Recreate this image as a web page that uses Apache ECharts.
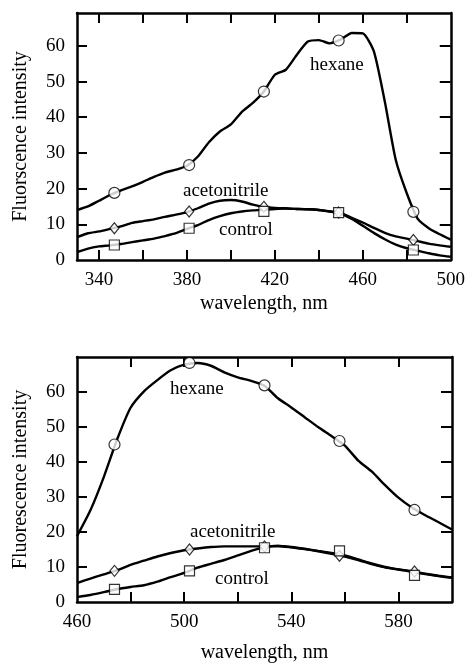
<!DOCTYPE html>
<html>
<head>
<meta charset="utf-8">
<script src="https://cdn.jsdelivr.net/npm/echarts@6/dist/echarts.min.js"></script>
<style>
html,body{margin:0;padding:0;background:#fff;}
#chart{width:468px;height:664px;}
</style>
</head>
<body>
<div id="chart"></div>
<script>
// ---------- DATA ----------
// Top panel (excitation ~330-500 nm)
var topWavelength = [330,335,340,345,350,355,360,365,370,375,380,385,390,395,400,405,410,415,420,425,430,435,440,445,450,455,460,465,470,475,480,485,490,495,500];
var topHexane = [14.0,15.0,16.6,18.2,19.5,20.6,21.9,23.3,24.5,25.3,26.4,29.0,33.0,36.0,38.0,41.5,44.0,47.2,51.9,53.3,57.5,61.2,61.6,60.7,61.8,63.6,63.5,58.5,44.4,28.0,18.7,11.5,8.9,7.2,5.7];
var topAcetonitrile = [6.4,7.5,8.0,8.7,9.4,10.4,10.9,11.4,12.1,12.7,13.4,14.5,15.8,16.6,16.8,16.4,15.5,14.9,14.6,14.5,14.3,14.2,14.0,13.6,13.2,11.8,10.5,9.0,7.6,6.6,6.0,5.3,4.6,4.1,3.7];
var topControl = [2.2,3.2,3.8,4.1,4.5,5.0,5.5,6.0,6.7,7.5,8.7,9.8,11.2,12.3,13.1,13.6,13.9,14.1,14.3,14.4,14.3,14.2,14.0,13.6,13.0,11.5,9.6,7.6,5.8,4.3,3.3,2.6,1.9,1.3,0.9];
var topMarkerWavelength = [347,381,415,449,483];
var topHexaneMarkers = [18.8,26.6,47.2,61.5,13.5];
var topAcetonitrileMarkers = [8.9,13.6,14.9,13.3,5.6];
var topControlMarkers = [4.2,8.9,13.6,13.3,2.8];

// Bottom panel (emission ~460-600 nm)
var botWavelength = [460,465,470,475,480,485,490,495,500,505,510,515,520,525,530,535,540,545,550,555,560,565,570,575,580,585,590,595,600];
var botHexane = [18.8,26.2,35.7,46.5,55.5,60.2,63.4,66.2,67.8,68.3,67.5,65.6,64.2,63.2,61.8,58.2,55.6,52.8,50.0,47.4,44.7,40.4,37.3,33.4,29.8,27.0,24.8,22.8,20.7];
var botAcetonitrile = [5.4,6.7,7.9,9.1,10.6,11.8,13.0,14.0,14.8,15.3,15.7,15.9,15.9,15.9,15.9,16.0,15.6,15.1,14.5,13.8,13.0,12.0,10.8,9.9,9.3,8.8,8.1,7.5,7.0];
var botControl = [1.4,2.0,2.8,3.7,4.3,4.8,5.8,7.1,8.3,9.8,10.9,12.0,13.3,14.6,15.6,16.0,15.7,15.2,14.6,14.0,13.3,12.2,11.0,10.0,9.3,8.6,8.0,7.4,6.9];
var botMarkerWavelength = [474,502,530,558,586];
var botHexaneMarkers = [45.0,68.3,61.9,46.0,26.3];
var botAcetonitrileMarkers = [8.9,15.0,15.9,13.2,8.7];
var botControlMarkers = [3.6,8.9,15.5,14.6,7.6];

// Axis ticks / labels
var topXTicks = [340,360,380,400,420,440,460,480];
var topXLabels = [340,380,420,460,500];
var botXTicks = [480,500,520,540,560,580];
var botXLabels = [460,500,540,580];
var yTicks = [10,20,30,40,50,60];
var yLabels = [0,10,20,30,40,50,60];

var seriesNames = ['hexane','acetonitrile','control'];
var yTitleTop = 'Fluorscence intensity';
var yTitleBot = 'Fluorescence intensity';
var xTitle = 'wavelength, nm';

// ---------- BUILD ----------
function pairs(xs, ys){ return xs.map(function(x,i){ return [x, ys[i]]; }); }
var FONT = 'Liberation Serif';
var BLACK = '#000';

function xBottom(gi, min, max, ticks, labels, gap){
  return {
    type:'value', gridIndex:gi, min:min, max:max, position:'bottom',
    splitLine:{show:false},
    axisLine:{show:true, onZero:false, lineStyle:{color:BLACK, width:2.5}},
    axisTick:{show:true, inside:true, length:10, customValues:ticks, lineStyle:{color:BLACK, width:2}},
    axisLabel:{show:true, customValues:labels, margin:11, color:BLACK, fontFamily:FONT, fontSize:19},
    name:xTitle, nameLocation:'middle', nameGap:gap,
    nameTextStyle:{color:BLACK, fontFamily:FONT, fontSize:20}
  };
}
function xTop(gi, min, max, ticks){
  return {
    type:'value', gridIndex:gi, min:min, max:max, position:'top',
    splitLine:{show:false},
    axisLine:{show:true, onZero:false, lineStyle:{color:BLACK, width:2.5}},
    axisTick:{show:true, inside:true, length:10, customValues:ticks, lineStyle:{color:BLACK, width:2}},
    axisLabel:{show:false}
  };
}
function yLeft(gi, max, title){
  return {
    type:'value', gridIndex:gi, min:0, max:max, position:'left',
    splitLine:{show:false},
    axisLine:{show:true, onZero:false, lineStyle:{color:BLACK, width:2.5}},
    axisTick:{show:true, inside:true, length:10, customValues:yTicks, lineStyle:{color:BLACK, width:2}},
    axisLabel:{show:true, customValues:yLabels, margin:12, color:BLACK, fontFamily:FONT, fontSize:19},
    name:title, nameLocation:'middle', nameGap:46, nameRotate:90,
    nameTextStyle:{color:BLACK, fontFamily:FONT, fontSize:20}
  };
}
function yRight(gi, max){
  return {
    type:'value', gridIndex:gi, min:0, max:max, position:'right',
    splitLine:{show:false},
    axisLine:{show:true, onZero:false, lineStyle:{color:BLACK, width:2.5}},
    axisTick:{show:true, inside:true, length:11, customValues:yTicks, lineStyle:{color:BLACK, width:2}},
    axisLabel:{show:false}
  };
}
function lineSeries(name, xs, ys, xi, yi){
  return {
    name:name, type:'line', xAxisIndex:xi, yAxisIndex:yi,
    data:pairs(xs, ys), showSymbol:false, smooth:0.2,
    lineStyle:{color:BLACK, width:2.4}, z:3, silent:true
  };
}
function markerSeries(name, xs, ys, xi, yi, symbol, size){
  return {
    name:name+' markers', type:'scatter', xAxisIndex:xi, yAxisIndex:yi,
    data:pairs(xs, ys), symbol:symbol, symbolSize:size,
    itemStyle:{color:'#fff', borderColor:BLACK, borderWidth:1.2}, z:4, silent:true
  };
}

var TOPMAX = 69.2, BOTMAX = 70;
var option = {
  backgroundColor:'#fff',
  animation:false,
  textStyle:{fontFamily:FONT},
  grid:[
    {left:77, top:13, right:17, height:247, containLabel:false},
    {left:77, top:357, right:16, height:248, containLabel:false}
  ],
  xAxis:[
    xBottom(0, 330, 500, topXTicks, topXLabels, 34),
    xTop(0, 330, 500, topXTicks),
    xBottom(1, 460, 600, botXTicks, botXLabels, 41),
    xTop(1, 460, 600, botXTicks)
  ],
  yAxis:[
    yLeft(0, TOPMAX, yTitleTop),
    yRight(0, TOPMAX),
    yLeft(1, BOTMAX, yTitleBot),
    yRight(1, BOTMAX)
  ],
  series:[
    lineSeries(seriesNames[0], topWavelength, topHexane, 0, 0),
    lineSeries(seriesNames[1], topWavelength, topAcetonitrile, 0, 0),
    lineSeries(seriesNames[2], topWavelength, topControl, 0, 0),
    markerSeries(seriesNames[0], topMarkerWavelength, topHexaneMarkers, 0, 0, 'circle', 11),
    markerSeries(seriesNames[1], topMarkerWavelength, topAcetonitrileMarkers, 0, 0, 'diamond', [9,11]),
    markerSeries(seriesNames[2], topMarkerWavelength, topControlMarkers, 0, 0, 'rect', 10),
    lineSeries(seriesNames[0], botWavelength, botHexane, 2, 2),
    lineSeries(seriesNames[1], botWavelength, botAcetonitrile, 2, 2),
    lineSeries(seriesNames[2], botWavelength, botControl, 2, 2),
    markerSeries(seriesNames[0], botMarkerWavelength, botHexaneMarkers, 2, 2, 'circle', 11),
    markerSeries(seriesNames[1], botMarkerWavelength, botAcetonitrileMarkers, 2, 2, 'diamond', [9,11]),
    markerSeries(seriesNames[2], botMarkerWavelength, botControlMarkers, 2, 2, 'rect', 10)
  ],
  graphic:[
    {type:'text', left:310, top:56, style:{text:'hexane', fill:BLACK, font:'19px "Liberation Serif"'}},
    {type:'text', left:183, top:182, style:{text:'acetonitrile', fill:BLACK, font:'19px "Liberation Serif"'}},
    {type:'text', left:219, top:221, style:{text:'control', fill:BLACK, font:'19px "Liberation Serif"'}},
    {type:'text', left:170, top:380, style:{text:'hexane', fill:BLACK, font:'19px "Liberation Serif"'}},
    {type:'text', left:190, top:523, style:{text:'acetonitrile', fill:BLACK, font:'19px "Liberation Serif"'}},
    {type:'text', left:215, top:570, style:{text:'control', fill:BLACK, font:'19px "Liberation Serif"'}}
  ]
};
var chart = echarts.init(document.getElementById('chart'), null, {renderer:'canvas'});
chart.setOption(option);
</script>
</body>
</html>
